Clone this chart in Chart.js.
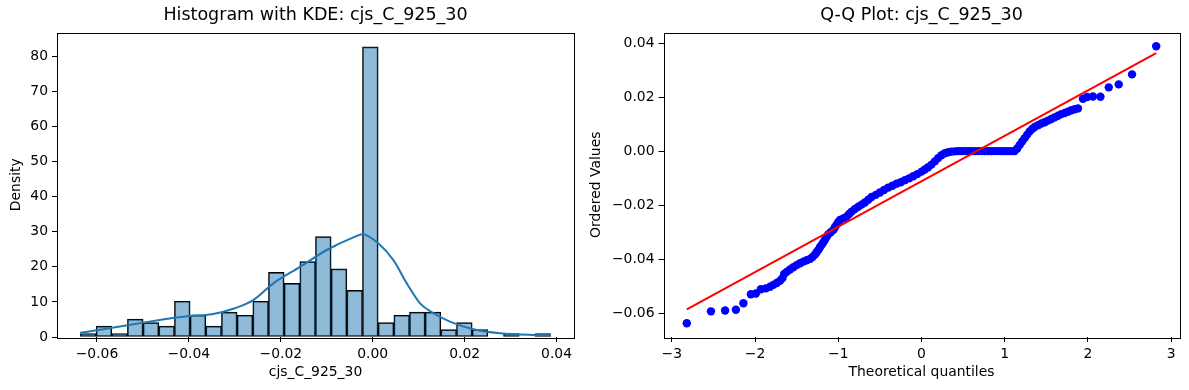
<!DOCTYPE html>
<html>
<head>
<meta charset="utf-8">
<script src="https://cdn.jsdelivr.net/npm/chart.js@4.4.1/dist/chart.umd.min.js"></script>
<style>
  html, body { margin: 0; padding: 0; background: #fff; }
  #wrap { position: relative; width: 1189px; height: 390px; }
  .box { position: absolute; top: 0; height: 390px; }
</style>
</head>
<body>
<div id="wrap">
  <div class="box" style="left:0;width:590px"><canvas id="histCanvas"></canvas></div>
  <div class="box" style="left:578px;width:611px"><canvas id="qqCanvas"></canvas></div>
</div>
<script>
// histogram bins (centres) and density heights
const binCenters = [-0.06190, -0.05849, -0.05508, -0.05167, -0.04826, -0.04485, -0.04144, -0.03803,
  -0.03462, -0.03121, -0.02780, -0.02439, -0.02098, -0.01757, -0.01416, -0.01075, -0.00734, -0.00393,
  -0.00052, 0.00289, 0.00630, 0.00971, 0.01312, 0.01653, 0.01994, 0.02335, 0.02676, 0.03017, 0.03358, 0.03699];
const binDensity = [1.0, 3.1, 1.0, 5.1, 4.1, 3.1, 10.2, 6.2, 3.1, 7.1, 6.2, 10.2, 18.4, 15.3, 21.5, 28.6,
  19.4, 13.3, 82.7, 4.1, 6.2, 7.1, 7.1, 2.1, 4.1, 2.1, null, 1.0, null, 1.0];

// KDE curve
const kdeX = [-0.0637, -0.060, -0.055, -0.050, -0.045, -0.040, -0.035, -0.030, -0.026, -0.0216, -0.0158,
  -0.010, -0.0042, -0.0022, 0.0012, 0.0045, 0.0074, 0.0103, 0.0132, 0.0168, 0.0219, 0.0277, 0.0349, 0.0388];
const kdeY = [1.2, 1.9, 3.0, 4.1, 5.1, 6.0, 6.5, 8.2, 10.5, 15.3, 20.0, 24.8, 28.4, 29.3, 26.7, 21.9, 15.3,
  9.6, 6.8, 4.4, 2.2, 1.05, 0.57, 0.5];

// Q-Q plot points
const qqTheoretical = [-2.82, -2.53, -2.36, -2.23, -2.14, -2.05, -1.99, -1.93, -1.87, -1.82, -1.78, -1.74,
  -1.70, -1.67, -1.65, -1.62, -1.58, -1.54, -1.50, -1.46, -1.42, -1.38, -1.34, -1.31, -1.28, -1.26, -1.24,
  -1.22, -1.20, -1.18, -1.16, -1.14, -1.12, -1.09, -1.06, -1.04, -1.02, -1.00, -0.98, -0.94, -0.90, -0.87,
  -0.84, -0.80, -0.76, -0.72, -0.68, -0.64, -0.60, -0.55, -0.50, -0.45, -0.40, -0.35, -0.30, -0.25, -0.20,
  -0.15, -0.10, -0.05, 0.00, 0.04, 0.08, 0.12, 0.16, 0.20, 0.24, 0.28, 0.32, 0.36, 0.40, 0.44, 0.48, 0.52,
  0.56, 0.60, 0.64, 0.68, 0.72, 0.76, 0.80, 0.84, 0.88, 0.92, 0.96, 1.00, 1.04, 1.08, 1.12, 1.15, 1.18,
  1.21, 1.24, 1.27, 1.30, 1.33, 1.36, 1.40, 1.44, 1.48, 1.52, 1.56, 1.60, 1.64, 1.68, 1.72, 1.76, 1.80,
  1.84, 1.88, 1.94, 1.99, 2.06, 2.15, 2.25, 2.37, 2.53, 2.82];
const qqOrdered = [-0.0637, -0.0593, -0.0590, -0.0587, -0.0563, -0.0530, -0.0527, -0.0511, -0.0508, -0.0502,
  -0.0495, -0.0488, -0.0480, -0.0470, -0.0455, -0.0447, -0.0438, -0.0430, -0.0422, -0.0415, -0.0409, -0.0404,
  -0.0399, -0.0392, -0.0383, -0.0374, -0.0366, -0.0356, -0.0347, -0.0338, -0.0328, -0.0318, -0.0308, -0.0300,
  -0.0292, -0.0282, -0.0272, -0.0262, -0.0255, -0.0249, -0.0243, -0.0233, -0.0224, -0.0214, -0.0206, -0.0198,
  -0.0190, -0.0180, -0.0170, -0.0162, -0.0153, -0.0144, -0.0135, -0.0128, -0.0121, -0.0115, -0.0108, -0.0101,
  -0.0093, -0.0085, -0.0076, -0.0068, -0.0060, -0.0050, -0.0038, -0.0026, -0.0015, -0.0008, -0.0004, -0.0002,
  -0.0001, 0, 0, 0, 0, 0, 0, 0, 0, 0, 0, 0, 0, 0, 0, 0, 0, 0, 0, 0.0010, 0.0023, 0.0036, 0.0048, 0.0061,
  0.0073, 0.0082, 0.0089, 0.0096, 0.0102, 0.0107, 0.0113, 0.0119, 0.0125, 0.0131, 0.0137, 0.0141, 0.0146,
  0.0151, 0.0155, 0.0158, 0.0194, 0.0200, 0.0202, 0.0201, 0.0236, 0.0247, 0.0284, 0.0388];

// least squares fit line end points
const fitX = [-2.82, 2.82];
const fitY = [-0.0586, 0.0363];

// tick labels
const histXTicks = [-0.06, -0.04, -0.02, 0.00, 0.02, 0.04];
const histYTicks = [0, 10, 20, 30, 40, 50, 60, 70, 80];
const qqXTicks = [-3, -2, -1, 0, 1, 2, 3];
const qqYTicks = [-0.06, -0.04, -0.02, 0.00, 0.02, 0.04];

const FONT = "'DejaVu Sans', sans-serif";
const minus = s => s.replace('-', '\u2212');

// box round the plot area, like matplotlib spines
const framePlugin = {
    id: 'frame',
    afterDatasetsDraw(chart) {
        const { ctx, chartArea: a } = chart;
        ctx.save();
        ctx.strokeStyle = '#000';
        ctx.lineWidth = 1;
        ctx.strokeRect(Math.round(a.left) + 0.5, Math.round(a.top) + 0.5,
            Math.round(a.right - a.left), Math.round(a.bottom - a.top));
        ctx.restore();
    }
};

// title centred over the plot area (matplotlib style), not the whole canvas
const axesTitlePlugin = {
    id: 'axesTitle',
    afterDraw(chart, args, opts) {
        const { ctx, chartArea: a } = chart;
        ctx.save();
        ctx.font = '17.5px ' + FONT;
        ctx.fillStyle = '#000';
        ctx.textAlign = 'center';
        ctx.textBaseline = 'alphabetic';
        ctx.fillText(opts.text, (a.left + a.right) / 2, 19.5);
        ctx.restore();
    }
};

function axis(opts) {
    return {
        type: 'linear',
        min: opts.min,
        max: opts.max,
        offset: false,
        border: { display: false },
        grid: { display: true, offset: false, drawOnChartArea: false, drawTicks: true, tickLength: 5, color: '#000', lineWidth: 1 },
        ticks: {
            color: '#000',
            padding: 4,
            font: { family: FONT, size: 13.9 },
            maxRotation: 0,
            autoSkip: false,
            callback: opts.fmt
        },
        afterBuildTicks: s => { s.ticks = opts.ticks.map(v => ({ value: v })); },
        afterFit: s => { if (opts.width) s.width = opts.width; if (opts.height) s.height = opts.height; },
        title: {
            display: true,
            text: opts.title,
            color: '#000',
            font: { family: FONT, size: 13.9 },
            padding: { top: opts.titlePad, bottom: opts.titlePad }
        }
    };
}

new Chart(document.getElementById('histCanvas'), {
    type: 'bar',
    data: {
        datasets: [{
            type: 'line',
            data: kdeX.map((x, i) => ({ x: x, y: kdeY[i] })),
            borderColor: '#1f77b4',
            borderWidth: 2,
            pointRadius: 0,
            cubicInterpolationMode: 'monotone',
            fill: false
        }, {
            type: 'bar',
            data: binCenters.map((x, i) => ({ x: x, y: binDensity[i] })),
            backgroundColor: 'rgba(31,119,180,0.5)',
            borderColor: '#000',
            borderWidth: 1,
            borderSkipped: false,
            barPercentage: 1,
            categoryPercentage: 1
        }]
    },
    options: {
        responsive: true,
        maintainAspectRatio: false,
        animation: false,
        layout: { padding: { left: 0, right: 16, top: 32.5, bottom: 0 } },
        plugins: {
            legend: { display: false },
            tooltip: { enabled: false },
            axesTitle: { text: 'Histogram with KDE: cjs_C_925_30' }
        },
        scales: {
            x: axis({ min: -0.0687, max: 0.0438, ticks: histXTicks, height: 53, title: 'cjs_C_925_30',
                titlePad: 9, fmt: v => minus(v.toFixed(2)) }),
            y: axis({ min: 0, max: 86.8, ticks: histYTicks, width: 57, title: 'Density',
                titlePad: 8, fmt: v => String(v) })
        }
    },
    plugins: [framePlugin, axesTitlePlugin]
});

new Chart(document.getElementById('qqCanvas'), {
    type: 'scatter',
    data: {
        datasets: [{
            data: fitX.map((x, i) => ({ x: x, y: fitY[i] })),
            showLine: true,
            borderColor: '#ff0000',
            borderWidth: 2,
            pointRadius: 0
        }, {
            data: qqTheoretical.map((x, i) => ({ x: x, y: qqOrdered[i] })),
            backgroundColor: '#0000ff',
            borderWidth: 0,
            pointRadius: 4.2
        }]
    },
    options: {
        responsive: true,
        maintainAspectRatio: false,
        animation: false,
        layout: { padding: { left: 0, right: 9.5, top: 32.5, bottom: 0 } },
        plugins: {
            legend: { display: false },
            tooltip: { enabled: false },
            axesTitle: { text: 'Q-Q Plot: cjs_C_925_30' }
        },
        scales: {
            x: axis({ min: -3.1, max: 3.1, ticks: qqXTicks, height: 53, title: 'Theoretical quantiles',
                titlePad: 9, fmt: v => minus(String(v)) }),
            y: axis({ min: -0.0688, max: 0.0439, ticks: qqYTicks, width: 85.5, title: 'Ordered Values',
                titlePad: 10, fmt: v => minus(v.toFixed(2)) })
        }
    },
    plugins: [framePlugin, axesTitlePlugin]
});
</script>
</body>
</html>
